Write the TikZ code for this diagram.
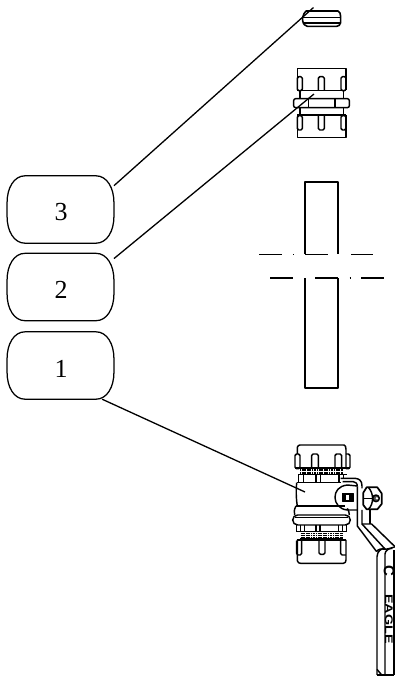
\documentclass[tikz,border=0pt]{standalone}
\usepackage{fontspec}
\setmainfont{Liberation Serif}
\newfontfamily\sansb{Liberation Sans}[BoldFont={Liberation Sans Bold}]
\usetikzlibrary{backgrounds,calc}
\newcommand{\calloutline}[1]{%
  \draw[outline] ($(#1.north west)+(18,0)$) -- ($(#1.north east)+(-18,0)$)
    .. controls ($(#1.north east)+(-7,0)$) and ($(#1.north east)+(0,12)$) .. ($(#1.north east)+(0,27)$)
    -- ($(#1.south east)+(0,-27)$)
    .. controls ($(#1.south east)+(0,-12)$) and ($(#1.south east)+(-7,0)$) .. ($(#1.south east)+(-18,0)$)
    -- ($(#1.south west)+(18,0)$)
    .. controls ($(#1.south west)+(7,0)$) and ($(#1.south west)+(0,-12)$) .. ($(#1.south west)+(0,-27)$)
    -- ($(#1.north west)+(0,27)$)
    .. controls ($(#1.north west)+(0,12)$) and ($(#1.north west)+(7,0)$) .. ($(#1.north west)+(18,0)$) -- cycle;}
\tikzset{
  callout/.style={minimum width=106.5pt,minimum height=67pt,inner sep=0pt},
  digit/.style={font=\fontsize{26}{28}\selectfont,inner sep=0pt},
  outline/.style={draw,fill=white,line width=1.25pt},
  leader/.style={line width=1.3pt},
  part/.style={line width=1.45pt,line join=round},
  thin part/.style={line width=0.9pt,line join=round},
  centre/.style={line width=1.3pt},
  zoomA/.style={shift={(270,430)},x=0.3333pt,y=-0.3333pt},
  zoomB/.style={shift={(270,0)},x=0.3333pt,y=-0.3333pt},
  zoomC/.style={shift={(350,530)},x=0.3333pt,y=-0.3333pt},
}
\begin{document}
\begin{tikzpicture}[x=1pt,y=-1pt]
\useasboundingbox (0,0) rectangle (395,678);
% callouts
\node[callout] (n3) at (60.5,209.5) {};
\node[callout] (n2) at (60.5,287) {};
\node[callout] (n1) at (60.5,365.5) {};
\node[digit] (l3) at (61,212.5) {3};
\node[digit] (l2) at (61,290) {2};
\node[digit] (l1) at (61,368.5) {1};
\coordinate (t3) at (313.5,7.5);
\coordinate (t2) at (314,94);
\coordinate (t1) at (305,492);
\begin{scope}[on background layer]
\draw[leader] (n3.24.3) -- (t3);
\draw[leader] (n2.28.5) -- (t2);
\draw[leader] (n1.-39.6) -- (t1);
\calloutline{n3}
\calloutline{n2}
\calloutline{n1}
\end{scope}
% item 3: nut
\begin{scope}[zoomB]
\draw[part,line width=1.6pt] (108,33) -- (204,33) .. controls (210,36) and (212,42) .. (212,50) -- (212,68) .. controls (210,75) and (206,79) .. (200,79) -- (112,79) .. controls (104,78) and (100,72) .. (98,62) -- (98,52) .. controls (100,44) and (103,38) .. (108,33);
\draw[thin part] (100,52) -- (211,52);
\draw[part] (100,69) -- (211,69);
% item 2: union
\draw[part] (82,270) -- (82,205) -- (228,205) -- (228,270);
\draw[part] (82,345) -- (82,413) -- (228,413) -- (228,345);
\draw[part] (82,345) -- (228,345);
\draw[part] (82,272) -- (228,272);
\draw[part] (90,272) -- (90,296) (220,272) -- (220,296);
\draw[part] (90,323) -- (90,345) (220,323) -- (220,345);
\draw[part,rounded corners=1.5pt] (82,230) rectangle (97,272);
\draw[part,rounded corners=1.5pt] (213,230) rectangle (228,272);
\draw[part,rounded corners=1.5pt] (145,272) -- (145,230) -- (163,230) -- (163,272);
\draw[part,rounded corners=1.5pt] (82,347) rectangle (97,390);
\draw[part,rounded corners=1.5pt] (213,347) rectangle (228,390);
\draw[part,rounded corners=1.5pt] (145,347) -- (145,390) -- (163,390) -- (163,347);
\draw[part,rounded corners=2pt] (71,296) rectangle (238,323);
\draw[part] (115,296) -- (115,323) (195,296) -- (195,323);
\end{scope}
% pipe
\draw[part] (305,254) -- (305,182) -- (338,182) -- (338,254);
\draw[part] (305,278) -- (305,388) -- (338,388) -- (338,278);
\draw[centre] (259,254.5) -- (282,254.5) (293,254.5) -- (294,254.5) (305,254.5) -- (328,254.5) (351,254.5) -- (373,254.5);
\draw[centre] (270,278) -- (293,278) (315,278) -- (338,278) (349.5,278) -- (350.5,278) (361,278) -- (384,278);
% valve
\begin{scope}[zoomA]
% top nut
\draw[part] (82,72) -- (82,52) .. controls (84,47) and (86,45) .. (90,45) -- (222,45) .. controls (226,46) and (228,50) .. (228,58) -- (228,112);
\draw[part,rounded corners=1.5pt] (75,72) rectangle (90,116);
\draw[part,rounded corners=1.5pt] (125,116) -- (125,72) -- (145,72) -- (145,116);
\draw[part,rounded corners=1.5pt] (195,116) -- (195,72) -- (215,72) -- (215,116);
\draw[part,rounded corners=1.5pt] (228,72) -- (240,72) -- (240,116) -- (228,116);
\draw[part] (75,114) -- (240,114);
% threads
\foreach \yy in {118,122,126,130}
  \draw[thin part,dash pattern=on 1.2pt off 0.5pt] (90,\yy) -- (220,\yy);
\draw[part] (85,134) -- (232,134);
\draw[part] (85,134) -- (85,158) (100,134) -- (100,158) (138,134) -- (138,158) (152,134) -- (152,158) (207,134) -- (207,158) (220,134) -- (220,145);
% body
\draw[part] (80,158) -- (212,158);
\draw[part] (80,158) .. controls (78,180) and (78,205) .. (82,228);
\draw[part] (78,228) -- (225,228);
\draw[part] (78,228) .. controls (72,238) and (72,248) .. (74,255);
\draw[part] (232,235) .. controls (236,242) and (238,248) .. (238,255);
\draw[part,rounded corners=5pt] (68,255) rectangle (241,285);
\draw[part] (76,262) -- (234,262);
% lower neck
\draw[part] (80,285) -- (80,305) (92,285) -- (92,305) (104,285) -- (104,305) (138,285) -- (138,305) (150,285) -- (150,305) (205,285) -- (205,305) (218,285) -- (218,305) (230,285) -- (230,305);
\draw[part] (80,305) -- (230,305);
\foreach \yy in {311,316,321}
  \draw[thin part,dash pattern=on 1.2pt off 0.5pt] (92,\yy) -- (218,\yy);
\draw[part] (90,325) -- (220,325);
\draw[part] (82,330) -- (228,330);
% lower nut
\draw[part] (82,330) -- (82,392) .. controls (84,398) and (86,400) .. (92,400) -- (220,400) .. controls (226,399) and (228,396) .. (228,390) -- (228,330);
\draw[part,rounded corners=1.5pt] (80,332) -- (80,375) -- (95,375) -- (95,332);
\draw[part,rounded corners=1.5pt] (147,332) -- (147,373) -- (165,373) -- (165,332);
\draw[part,rounded corners=1.5pt] (212,332) -- (212,375) -- (228,375);
% stem boss
\draw[part] (262,168) -- (232,165) .. controls (205,168) and (195,185) .. (195,202) .. controls (195,220) and (208,238) .. (232,240) -- (262,240);
\draw[part,fill=black] (218,190) rectangle (250,215);
\draw[fill=white,draw=none] (228,196) rectangle (236,210);
% lever
\draw[part] (212,145) -- (255,145) .. controls (268,146) and (276,152) .. (276,168) -- (276,175);
\draw[part] (218,155) -- (250,155) .. controls (258,156) and (262,160) .. (262,170);
\draw[part] (262,170) -- (262,288) -- (320,365);
\draw[part] (276,240) -- (276,282) -- (346,358);
\draw[part] (276,282) -- (305,282) -- (375,350);
\draw[part] (300,240) -- (300,282);
\draw[part] (320,365) .. controls (322,358) and (335,355) .. (346,358) .. controls (358,356) and (372,352) .. (375,350);
% nut on stem
\draw[part,line width=1.7pt] (280,188) -- (290,172) -- (322,172) -- (335,190) -- (335,222) -- (322,238) -- (290,238) -- (280,225) -- cycle;
\draw[part] (295,172) .. controls (312,190) and (312,222) .. (295,238);
\draw[part] (280,205) -- (305,205);
\draw[part,fill=black!70] (318,205) circle[radius=10];
\draw[fill=white,draw=none] (321,205) circle[radius=4];
\end{scope}
% handle
\begin{scope}[zoomC]
\draw[part] (81,435) -- (81,80) .. controls (82,65) and (92,55) .. (105,55);
\draw[part] (105,435) -- (105,72) .. controls (106,62) and (115,55) .. (127,55);
\draw[part] (132,435) -- (132,60);
\draw[part] (81,435) -- (132,435);
\draw[part] (81,418) -- (95,435);
\end{scope}
\node[font=\sansb\bfseries\fontsize{11}{11}\selectfont,rotate=-90,xscale=1.3,transform shape,inner sep=0pt] (eagle) at (389,619) {EAGLE};
\node[font=\sansb\bfseries\fontsize{15}{15}\selectfont,rotate=-90,transform shape,inner sep=0pt] (logo) at (389,571) {C};
\end{tikzpicture}
\end{document}
